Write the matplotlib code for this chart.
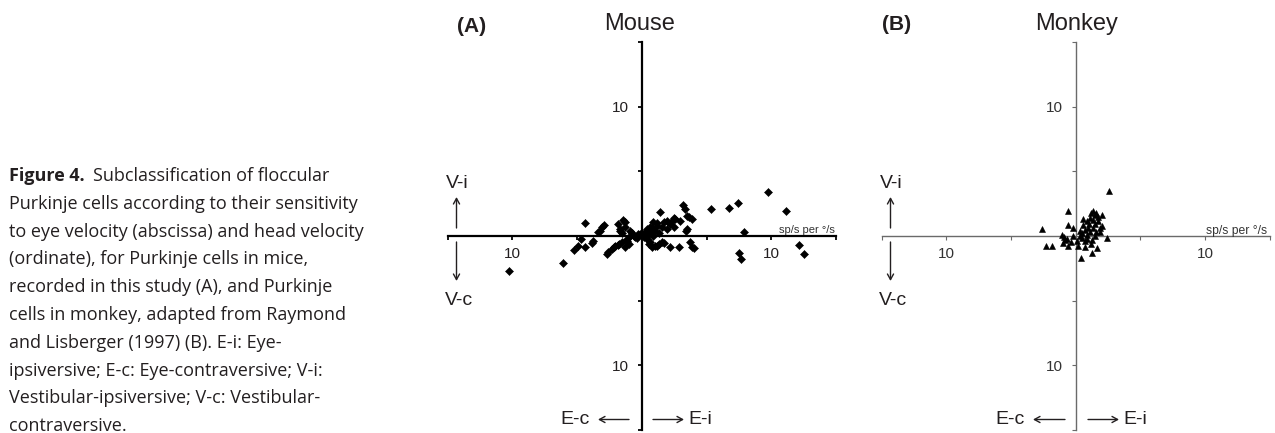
import matplotlib
matplotlib.use("Agg")
import matplotlib.pyplot as plt
from matplotlib.ticker import FixedLocator, FixedFormatter

W, H = 1275, 433
DPI = 100

# Mouse Purkinje cells: eye sensitivity (x) vs head sensitivity (y), sp/s per deg/s
mouse_x = [-10.3, -6.06, -5.28, -4.9, -4.72, -4.38, -4.4, -3.87, -3.74, -3.35,
           -3.27, -3.09, -2.96, -2.71, -2.63, -2.32, -2.19, -2.06, -1.88, -1.88,
           -1.80, -1.68, -1.68, -1.55, -1.42, -1.34, -1.29, -1.29, -1.16, -1.16,
           -0.9, -0.9, -0.77, -0.64, -0.52, -0.39, -0.26, -0.13, -1.0, -1.5,
           0.13, 0.26, 0.39, 0.39, 0.39, 0.52, 0.64, 0.64, 0.77, 0.9,
           0.9, 1.03, 1.16, 1.16, 1.29, 1.42, 1.55, 1.55, 1.68, 1.68,
           1.93, 1.93, 2.19, 2.19, 2.32, 2.45, 2.45, 2.58, 2.84, 2.96,
           3.17, 3.35, 3.43, 3.48, 3.61, 3.48, 3.74, 3.87, 3.87, 4.05,
           0.6, 1.0, 1.3, 0.2, 0.5, 0.8, 1.2,
           5.33, 6.75, 7.42, 7.89, 7.53, 7.63, 9.72, 11.16, 12.14, 12.5]
mouse_y = [-2.68, -2.06, -1.08, -0.75, -0.23, -0.88, 1.0, -0.57, -0.36, 0.28,
           0.36, 0.67, 0.88, -1.39, -1.2, -1.0, -0.88, -0.75, 0.93, -0.70,
           -0.62, 0.41, 0.54, -0.49, 1.24, 1.1, 0.67, -0.88, -0.36, -0.23,
           0.41, 0.03, 0.2, 0.03, -0.1, -0.18, 0.15, 0.15, -0.6, 0.2,
           0.03, 0.28, 0.54, 0.41, -0.23, -0.62, 0.67, -0.49, -0.88, 1.06,
           0.03, -0.75, 0.80, -0.75, -0.62, 1.83, 0.67, -0.49, 1.06, -0.57,
           1.19, 0.54, 0.93, -0.82, 1.19, 1.39, 0.67, 1.31, -0.82, 1.19,
           2.42, 2.09, 0.41, 1.57, 1.44, 0.54, -0.49, 1.31, -0.88, -0.95,
           0.3, 0.4, 0.2, -0.1, 0.1, 0.6, 1.0,
           2.06, 2.19, 2.53, 0.31, -1.31, -1.78, 3.40, 1.93, -0.70, -1.39]

# Monkey Purkinje cells (Raymond & Lisberger 1997)
monkey_x = [2.56, -0.56, -2.57, -2.27, -1.82, -0.56, -1.08, -0.69, -0.95, -0.62,
            -0.18, 0.21, 0.41, 0.72, 1.26, 1.62, 2.45, 2.0, 1.36, 1.49,
            1.10, 0.85, 0.59, 0.33, 0.46, 0.97, 1.36, 1.87, 1.74, 0.85,
            1.49, 0.72, 1.23, 0.08, -0.18, 1.2, 1.6, 1.0, 1.3, 0.7,
            1.1, 1.6, 0.5, -0.8, -0.4, -0.9, 0.9, 1.9, 2.0, 1.5,
            0.3, 0.6, 1.7, 1.2]
monkey_y = [3.49, 1.97, 0.55, -0.79, -0.79, 0.82, 0.10, -0.2, -0.54, -0.79,
            0.62, -0.79, -1.72, -0.87, -1.31, -0.92, -0.18, 1.64, 1.90, 1.59,
            1.38, 1.13, 0.87, 0.36, -0.15, 0.62, 0.62, 0.62, 1.13, 0.10,
            -0.03, -0.41, -0.28, -0.41, -0.03, 1.75, 1.8, 0.9, 1.2, 0.5,
            0.3, 0.3, 0.2, -0.3, -0.5, -0.1, -0.2, 0.3, 0.8, 0.9,
            0.0, 1.3, 1.5, -0.6]

axis_ticks = [-15, -10, -5, 5, 10, 15]
axis_labels = ["", "10", "", "", "10", ""]
unit_label = "sp/s per °/s"

INK = "#231f20"
FONT = ["Liberation Sans", "DejaVu Sans"]

fig = plt.figure(figsize=(W / DPI, H / DPI), dpi=DPI)


def fx(px):
    return px / W


def fy(py):
    return 1 - py / H


def ftext(px, py, s, **kw):
    kw.setdefault("family", FONT)
    kw.setdefault("color", INK)
    return fig.text(fx(px), fy(py), s, **kw)


def farrow(x0, y0, x1, y1, color=INK):
    fig.add_artist(matplotlib.patches.FancyArrowPatch(
        (fx(x0), fy(y0)), (fx(x1), fy(y1)), transform=fig.transFigure,
        arrowstyle="->,head_length=4,head_width=2.2", lw=1.0, color=color,
        shrinkA=0, shrinkB=0, mutation_scale=1))


def panel(rect, xs, ys, marker, ms, spine_color, spine_lw, label_color):
    ax = fig.add_axes(rect)
    ax.set_xlim(-15, 15)
    ax.set_ylim(-15, 15)
    ax.patch.set_alpha(0)
    for side in ("top", "right"):
        ax.spines[side].set_visible(False)
    for side in ("left", "bottom"):
        ax.spines[side].set_position(("data", 0))
        ax.spines[side].set_color(spine_color)
        ax.spines[side].set_linewidth(spine_lw)
    for axis in (ax.xaxis, ax.yaxis):
        axis.set_major_locator(FixedLocator(axis_ticks))
        axis.set_major_formatter(FixedFormatter(axis_labels))
    ax.tick_params(axis="both", direction="out", length=3, width=spine_lw * 0.8,
                   color=spine_color, labelsize=11, labelcolor=label_color)
    ax.tick_params(axis="x", pad=5)
    ax.tick_params(axis="y", pad=6)
    for lab in ax.get_xticklabels() + ax.get_yticklabels():
        lab.set_family(FONT)
    ax.plot(xs, ys, ls="none", marker=marker, ms=ms, color="black",
            mec="black", mew=0.4, clip_on=False, zorder=3)
    return ax


# Panel A: mouse
panel([447.7 / W, 3 / H, 388.3 / W, 388 / H], mouse_x, mouse_y,
      "D", 4.2, "black", 1.6, INK)
# Panel B: monkey
panel([881.7 / W, 3 / H, 388 / W, 388 / H], monkey_x, monkey_y,
      "^", 4.0, "#6a6a6a", 1.0, "#333333")

# Titles and panel letters
ftext(472, 26.5, "(A)", fontsize=15, fontweight="bold", ha="center", va="center")
ftext(640, 23.5, "Mouse", fontsize=17, ha="center", va="center")
ftext(897, 25, "(B)", fontsize=15, fontweight="bold", ha="center", va="center")
ftext(1076.5, 24, "Monkey", fontsize=17, ha="center", va="center")

# Unit labels on the abscissa
ftext(835, 233, unit_label, fontsize=8, ha="right", va="baseline", color="#333333")
ftext(1267, 234, unit_label, fontsize=8.7, ha="right", va="baseline", color="#333333")

# Direction labels and arrows
for cx in (457, 891):
    ftext(cx, 183.5, "V-i", fontsize=14, ha="center", va="center")
    ftext(cx + 1.5, 300.5, "V-c", fontsize=14, ha="center", va="center")
    farrow(cx - 0.5, 228, cx - 0.5, 197)
    farrow(cx - 0.5, 242, cx - 0.5, 281)

ftext(575, 419, "E-c", fontsize=14, ha="center", va="center")
farrow(629, 419.5, 598, 419.5)
farrow(653, 419.5, 684, 419.5)
ftext(700.5, 419, "E-i", fontsize=14, ha="center", va="center")

ftext(1010, 419, "E-c", fontsize=14, ha="center", va="center")
farrow(1065, 419.5, 1033, 419.5)
farrow(1088, 419.5, 1119, 419.5)
ftext(1135.5, 419, "E-i", fontsize=14, ha="center", va="center")

# Figure legend text
caption_lines = [
    "Subclassification of floccular",
    "Purkinje cells according to their sensitivity",
    "to eye velocity (abscissa) and head velocity",
    "(ordinate), for Purkinje cells in mice,",
    "recorded in this study (A), and Purkinje",
    "cells in monkey, adapted from Raymond",
    "and Lisberger (1997) (B). E-i: Eye-",
    "ipsiversive; E-c: Eye-contraversive; V-i:",
    "Vestibular-ipsiversive; V-c: Vestibular-",
    "contraversive.",
]
cap_font = ["Open Sans", "DejaVu Sans"]
cap_size = 13
base0, step = 181, 27.8
head = ftext(9, base0, "Figure 4.", fontsize=cap_size, fontweight="bold",
             family=cap_font, va="baseline")
renderer = fig.canvas.get_renderer()
head_end = head.get_window_extent(renderer).x1
for i, line in enumerate(caption_lines):
    x0 = head_end + 8 if i == 0 else 9
    ftext(x0, base0 + step * i, line, fontsize=cap_size, family=cap_font,
          va="baseline")

fig.savefig("out.png", dpi=DPI)
